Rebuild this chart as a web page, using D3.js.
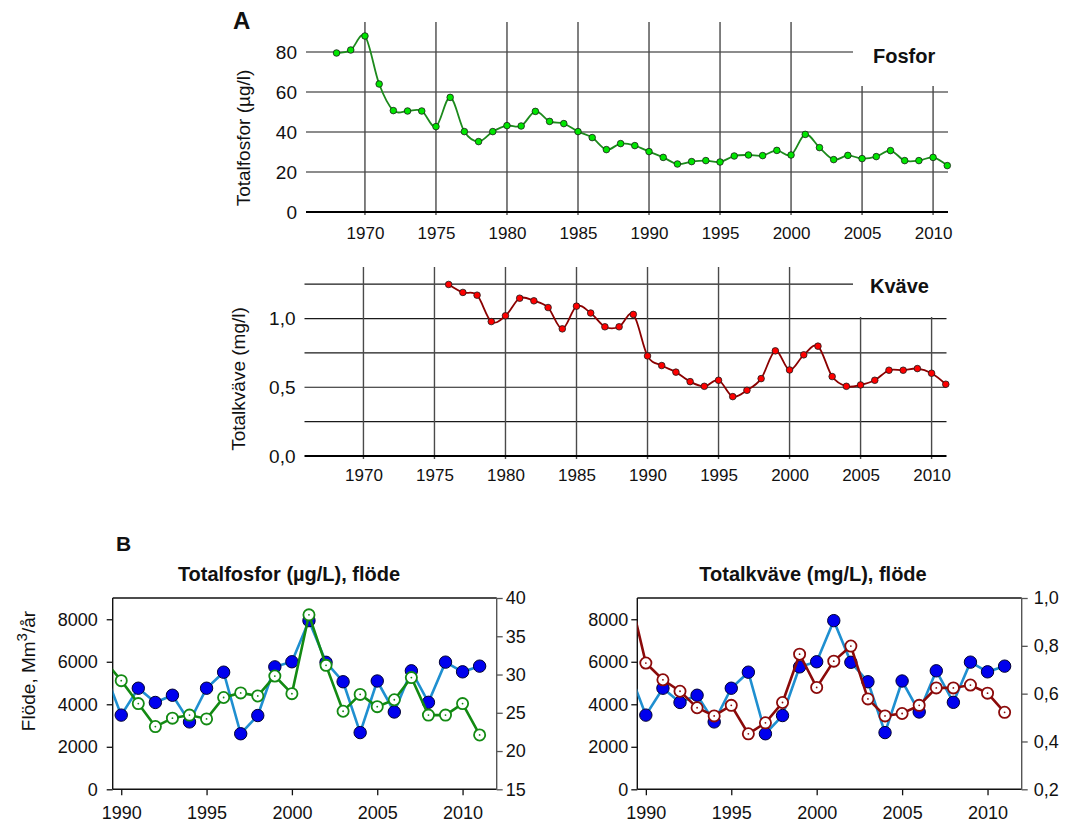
<!DOCTYPE html>
<html>
<head>
<meta charset="utf-8">
<script src="https://cdn.jsdelivr.net/npm/d3@7"></script>
<style>
  body { margin: 0; background: #fff; }
  text { font-family: "Liberation Sans", Arial, sans-serif; fill: #111; }
</style>
</head>
<body>
<svg id="chart" width="1069" height="827"></svg>
<script>
// ---- Data ----------------------------------------------------------
// Annual means, total phosphorus (µg/l), 1968–2011
const fosforYears = d3.range(1968, 2012);
const fosforValues = [79.5, 81, 88, 64, 50.7, 50.5, 50.5, 42.7, 57.3, 40.2, 35.2, 40.2,
  43.2, 43, 50.3, 45.3, 44.2, 40.2, 37.2, 31.2, 34.2, 33.2, 30.2, 27.3, 24, 25.2, 25.7,
  25, 28, 28.5, 28.2, 30.8, 28.5, 38.8, 32.2, 26.2, 28.3, 26.7, 27.7, 30.7, 25.7, 25.7,
  27.3, 23.2];

// Annual means, total nitrogen (mg/l), 1976–2011
const kvaveYears = d3.range(1976, 2012);
const kvaveValues = [1.248, 1.19, 1.17, 0.978, 1.02, 1.148, 1.129, 1.08, 0.925, 1.09,
  1.04, 0.94, 0.94, 1.03, 0.728, 0.658, 0.61, 0.541, 0.507, 0.551, 0.432, 0.478, 0.563,
  0.765, 0.626, 0.736, 0.799, 0.578, 0.507, 0.517, 0.551, 0.624, 0.624, 0.636, 0.602,
  0.522];

// Flow (Mm³/år) and flow-panel phosphorus, 1989–2011
const flowYears = d3.range(1989, 2012);
const flodeValues = [5600, 3490, 4755, 4085, 4425, 3170, 4755, 5510, 2613, 3470, 5760,
  6000, 7935, 5975, 5060, 2668, 5095, 3637, 5574, 4092, 5982, 5527, 5794];
const flowFosforValues = [31.9, 29.2, 26.2, 23.2, 24.3, 24.7, 24.2, 27.0, 27.6, 27.2,
  29.8, 27.5, 37.8, 31.2, 25.2, 27.4, 25.8, 26.7, 29.6, 24.7, 24.7, 26.2, 22.1];
const flowKvaveValues = kvaveValues.slice(kvaveYears.indexOf(1989));

// Tick values
const trendYearTicks = d3.range(1970, 2011, 5);
const fosforTicks = [0, 20, 40, 60, 80];
const kvaveGrid = [0.25, 0.5, 0.75, 1.0, 1.25];
const kvaveTicks = [0, 0.5, 1.0];
const flowYearTicks = d3.range(1990, 2011, 5);
const flodeTicks = [0, 2000, 4000, 6000, 8000];
const fosforRightTicks = [15, 20, 25, 30, 35, 40];
const kvaveRightTicks = [0.2, 0.4, 0.6, 0.8, 1.0];

const comma = d => d.toFixed(1).replace(".", ",");

const svg = d3.select("#chart");

// ---- Panel A: smoothed annual trend charts -------------------------
function trendPanel(cfg) {
  const g = svg.append("g");
  const x = cfg.x, y = cfg.y;
  const [xl, xr] = x.range();
  const [yb, yt] = y.range();

  // horizontal grid
  g.selectAll("line.h").data(cfg.grid).join("line")
    .attr("x1", xl).attr("x2", xr)
    .attr("y1", d => y(d)).attr("y2", d => y(d))
    .attr("stroke", "#1a1a1a").attr("stroke-width", 1.2);
  // vertical grid
  g.selectAll("line.v").data(trendYearTicks).join("line")
    .attr("x1", d => x(d)).attr("x2", d => x(d))
    .attr("y1", yt).attr("y2", yb + 3)
    .attr("stroke", "#4a4a4a").attr("stroke-width", 1.4);
  // base line
  g.append("line").attr("x1", xl).attr("x2", xr)
    .attr("y1", yb).attr("y2", yb)
    .attr("stroke", "#000").attr("stroke-width", 2.2);

  // label box hides the grid behind the series name
  g.append("rect").attr("x", cfg.labelBox[0]).attr("y", yt - 6)
    .attr("width", 1069 - cfg.labelBox[0]).attr("height", cfg.labelBox[1] - yt + 6)
    .attr("fill", "#fff");
  g.append("text").attr("x", cfg.labelPos[0]).attr("y", cfg.labelPos[1])
    .attr("font-size", 20).attr("font-weight", "bold").text(cfg.label);

  // axes (labels only)
  const ya = g.append("g").attr("transform", `translate(${xl},0)`)
    .call(d3.axisLeft(y).tickValues(cfg.ticks).tickSize(0).tickPadding(9).tickFormat(cfg.fmt));
  ya.select(".domain").remove();
  ya.selectAll("text").attr("font-size", 19).attr("font-family", null);

  const xa = g.append("g").attr("transform", `translate(0,${yb})`)
    .call(d3.axisBottom(x).tickValues(trendYearTicks).tickSize(0)
      .tickPadding(cfg.xPad).tickFormat(d3.format("d")));
  xa.select(".domain").remove();
  xa.selectAll("text").attr("font-size", 17).attr("font-family", null);

  g.append("text")
    .attr("transform", `translate(${cfg.titlePos[0]},${cfg.titlePos[1]}) rotate(-90)`)
    .attr("text-anchor", "middle").attr("font-size", 19).text(cfg.title);

  // smoothed series
  const pts = cfg.years.map((yr, i) => [yr, cfg.values[i]]);
  g.append("path").datum(pts)
    .attr("d", d3.line().x(d => x(d[0])).y(d => y(d[1])).curve(d3.curveCardinal.tension(0)))
    .attr("fill", "none").attr("stroke", cfg.lineColor).attr("stroke-width", 1.8);
  g.selectAll("circle.p").data(pts).join("circle")
    .attr("cx", d => x(d[0])).attr("cy", d => y(d[1])).attr("r", 3.3)
    .attr("fill", cfg.dotColor).attr("stroke", "#1a1a1a").attr("stroke-width", 0.8);
}

svg.append("text").attr("x", 233).attr("y", 29)
  .attr("font-size", 24).attr("font-weight", "bold").text("A");

trendPanel({
  x: d3.scaleLinear().domain([1965.85, 2011.05]).range([306, 948]),
  y: d3.scaleLinear().domain([0, 95]).range([212, 22]),
  grid: [20, 40, 60, 80], ticks: fosforTicks, fmt: d3.format("d"),
  years: fosforYears, values: fosforValues,
  lineColor: "#1c8a1c", dotColor: "#00e600",
  label: "Fosfor", labelPos: [873, 63], labelBox: [853, 86],
  title: "Totalfosfor (µg/l)", titlePos: [250, 138], xPad: 15
});

trendPanel({
  x: d3.scaleLinear().domain([1965.85, 2011.05]).range([304.5, 946.5]),
  y: d3.scaleLinear().domain([0, 1.375]).range([456, 267]),
  grid: kvaveGrid, ticks: kvaveTicks, fmt: comma,
  years: kvaveYears, values: kvaveValues,
  lineColor: "#8b0000", dotColor: "#ff0000",
  label: "Kväve", labelPos: [870, 293], labelBox: [853, 317],
  title: "Totalkväve (mg/l)", titlePos: [245, 379], xPad: 13
});

// ---- Panel B: concentration vs flow --------------------------------
svg.append("text").attr("x", 116).attr("y", 551)
  .attr("font-size", 21).attr("font-weight", "bold").text("B");

let clipId = 0;
function flowPanel(cfg) {
  const g = svg.append("g");
  const [x0, x1] = cfg.xRange;
  const yB = 789.3, yT = 598;
  const x = d3.scaleLinear().domain([1989.5, 2012]).range([x0, x1]);
  const yL = d3.scaleLinear().domain([0, 9000]).range([yB, yT]);
  const yR = d3.scaleLinear().domain(cfg.rDomain).range([yB, yT]);

  const id = "clip" + (clipId++);
  g.append("clipPath").attr("id", id).append("rect")
    .attr("x", x0).attr("y", yT).attr("width", x1 - x0).attr("height", yB - yT);

  // frame
  g.append("line").attr("x1", x0).attr("x2", x1).attr("y1", yT).attr("y2", yT).attr("stroke", "#111").attr("stroke-width", 1.4);
  g.append("line").attr("x1", x0).attr("x2", x1).attr("y1", yB).attr("y2", yB).attr("stroke", "#111").attr("stroke-width", 1.4);
  g.append("line").attr("x1", x0).attr("x2", x0).attr("y1", yT).attr("y2", yB).attr("stroke", "#111").attr("stroke-width", 1.4);
  g.append("line").attr("x1", x1).attr("x2", x1).attr("y1", yT).attr("y2", yB).attr("stroke", "#555").attr("stroke-width", 1.4);

  const styleAxis = (sel, color) => {
    sel.select(".domain").remove();
    sel.selectAll("line").attr("stroke", color).attr("stroke-width", 1.3);
    sel.selectAll("text").attr("font-size", 18).attr("font-family", null);
  };
  g.append("g").attr("transform", `translate(${x0},0)`)
    .call(d3.axisLeft(yL).tickValues(flodeTicks).tickSize(6).tickPadding(cfg.leftPad).tickFormat(d3.format("d")))
    .call(s => styleAxis(s, "#111"));
  g.append("g").attr("transform", `translate(${x1},0)`)
    .call(d3.axisRight(yR).tickValues(cfg.rTicks).tickSize(6).tickPadding(cfg.rightPad).tickFormat(cfg.rFmt))
    .call(s => styleAxis(s, "#555"));
  g.append("g").attr("transform", `translate(0,${yB})`)
    .call(d3.axisBottom(x).tickValues(flowYearTicks).tickSize(6).tickPadding(11).tickFormat(d3.format("d")))
    .call(s => styleAxis(s, "#111"));

  g.append("text").attr("x", cfg.titleX).attr("y", 581)
    .attr("text-anchor", "middle").attr("font-size", 20).attr("font-weight", "bold")
    .text(cfg.title);

  const flowPts = flowYears.map((yr, i) => [yr, flodeValues[i]]);
  const concPts = flowYears.map((yr, i) => [yr, cfg.values[i]]);
  const inView = d => d[0] >= 1989.5;

  const plot = g.append("g");
  plot.append("path").datum(flowPts).attr("clip-path", `url(#${id})`)
    .attr("d", d3.line().x(d => x(d[0])).y(d => yL(d[1])))
    .attr("fill", "none").attr("stroke", "#1f8fd0").attr("stroke-width", 2.6);
  plot.selectAll("circle.f").data(flowPts.filter(inView)).join("circle")
    .attr("cx", d => x(d[0])).attr("cy", d => yL(d[1])).attr("r", 6.2)
    .attr("fill", "#0000ee").attr("stroke", "#000033").attr("stroke-width", 1);

  plot.append("path").datum(concPts).attr("clip-path", `url(#${id})`)
    .attr("d", d3.line().x(d => x(d[0])).y(d => yR(d[1])))
    .attr("fill", "none").attr("stroke", cfg.color).attr("stroke-width", 2.6);
  const open = plot.selectAll("g.c").data(concPts.filter(inView)).join("g")
    .attr("transform", d => `translate(${x(d[0])},${yR(d[1])})`);
  open.append("circle").attr("r", 5.6)
    .attr("fill", "#fff").attr("stroke", cfg.color).attr("stroke-width", 1.8);
  open.append("circle").attr("r", 0.9).attr("fill", cfg.color);
}

flowPanel({
  xRange: [112.7, 496.7], rDomain: [15, 40], rTicks: fosforRightTicks,
  rFmt: d3.format("d"), values: flowFosforValues, color: "#138a13",
  title: "Totalfosfor (µg/L), flöde", titleX: 289, leftPad: 9, rightPad: 3
});
flowPanel({
  xRange: [637.3, 1021.7], rDomain: [0.2, 1.0], rTicks: kvaveRightTicks,
  rFmt: comma, values: flowKvaveValues, color: "#8b0a0a",
  title: "Totalkväve (mg/L), flöde", titleX: 813, leftPad: 3, rightPad: 6
});

// y-axis title of the flow panels
const ft = svg.append("text")
  .attr("transform", "translate(35,671) rotate(-90)")
  .attr("text-anchor", "middle").attr("font-size", 19);
ft.append("tspan").text("Flöde, Mm");
ft.append("tspan").attr("baseline-shift", "super").attr("font-size", 15).text("3");
ft.append("tspan").text("/år");
</script>
</body>
</html>
